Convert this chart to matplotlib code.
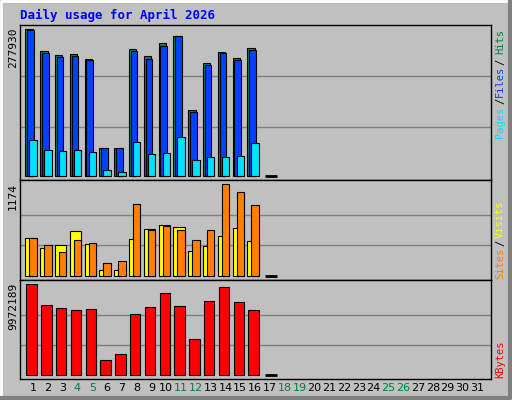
import matplotlib
matplotlib.use('Agg')
import matplotlib.pyplot as plt
from matplotlib.lines import Line2D
import numpy as np

days = np.arange(1, 17)
hits = [277930, 236260, 228680, 230570, 221100, 52480, 52480, 240050, 226780, 251410, 264670, 124470, 213520, 234360, 222990, 241940]
files = [276040, 232470, 224890, 226780, 219200, 52480, 52480, 236260, 221100, 245730, 264670, 120690, 209730, 232470, 219200, 238150]
pages = [67640, 48690, 46800, 48690, 44900, 10800, 7010, 63850, 41110, 43010, 73320, 29750, 35430, 35430, 37320, 61950]
visits = [486, 358, 393, 572, 406, 73, 73, 474, 598, 649, 623, 316, 380, 508, 611, 444]
sites = [486, 393, 303, 457, 419, 163, 188, 918, 585, 636, 585, 457, 585, 1174, 1071, 905]
kbytes = [9972189, 7670900, 7342100, 7123000, 7232500, 1643800, 2301300, 6684600, 7451700, 8985900, 7561300, 3945000, 8109200, 9643400, 7999600, 7123000]
weekend = [4, 5, 11, 12, 18, 19, 25, 26]
today = 17

W, H = 512, 400
BG = '#c0c0c0'
MONO = 'DejaVu Sans Mono'
fig = plt.figure(figsize=(W / 100, H / 100), dpi=100, facecolor=BG)


def box(y0, y1):
    return fig.add_axes([20 / W, 1 - y1 / H, (491 - 20) / W, (y1 - y0) / H])


def style(ax, ymin, ymax, grid):
    ax.set_facecolor(BG)
    ax.set_xlim(0.12, 31.93)
    ax.set_ylim(ymin, ymax)
    ax.set_xticks([])
    ax.set_yticks([])
    for g in grid:
        ax.axhline(g, color='#808080', lw=1, zorder=0)
    for s in ax.spines.values():
        s.set_color('black')
        s.set_linewidth(1)
    ax.hlines(0, today - 0.3, today + 0.5, color='black', lw=2, zorder=3)


ek = dict(edgecolor='black', linewidth=0.8, align='edge')

ax1 = box(25, 180)
style(ax1, -7578, 286080, [92837, 189460])
ax1.bar(days - 0.52, hits, 0.5, color='#00805c', zorder=2, **ek)
ax1.bar(days - 0.4, files, 0.45, color='#0040ff', zorder=2, **ek)
ax1.bar(days - 0.25, pages, 0.5, color='#00e0ff', zorder=2, **ek)

ax2 = box(180, 280)
style(ax2, -51, 1229, [1174 / 3, 2 * 1174 / 3])
ax2.bar(days - 0.52, visits, 0.75, color='#ffff00', zorder=2, **ek)
ax2.bar(days - 0.25, sites, 0.5, color='#ff8000', zorder=2, **ek)

ax3 = box(280, 379)
style(ax3, -405000, 10443000, [max(kbytes) / 3, 2 * max(kbytes) / 3])
ax3.bar(days - 0.45, kbytes, 0.7, color='#ff0000', zorder=2, **ek)

# outer 3d frame
fig.add_artist(Line2D([1 / W, 1 / W, 1 - 2 / W], [2 / H, 1 - 1 / H, 1 - 1 / H], color='white', lw=2))
fig.add_artist(Line2D([1 / W, 1 - 2 / W, 1 - 2 / W], [2 / H, 2 / H, 1 - 1 / H], color='#808080', lw=3))

fig.text(20 / W, 1 - 15 / H, 'Daily usage for April 2026', color='#0000ff', fontsize=9,
         fontweight='bold', family=MONO, va='center')

for ytop, val in [(28, max(hits)), (183, max(sites)), (283, max(kbytes))]:
    fig.text(13 / W, 1 - ytop / H, str(val), rotation=90, fontsize=8, family=MONO,
             ha='center', va='top')

for d in range(1, 32):
    x = 20 + (d - 0.12) / (31.93 - 0.12) * 471
    fig.text(x / W, 1 - 388 / H, str(d), fontsize=8, ha='center', va='center',
             color='#008040' if d in weekend else 'black')

for label, yc, color in [('Pages', 122, '#00e0ff'), ('/', 101, 'black'), ('Files', 81, '#0040ff'),
                         ('/', 62, 'black'), ('Hits', 42, '#008040'), ('Sites', 263, '#ff8000'),
                         ('/', 243, 'black'), ('Visits', 219, '#ffff00'), ('KBytes', 359, '#ff0000')]:
    fig.text(500 / W, 1 - yc / H, label, rotation=90, fontsize=7.5, family=MONO,
             color=color, ha='center', va='center')

fig.savefig('out.png', dpi=100, facecolor=BG)
